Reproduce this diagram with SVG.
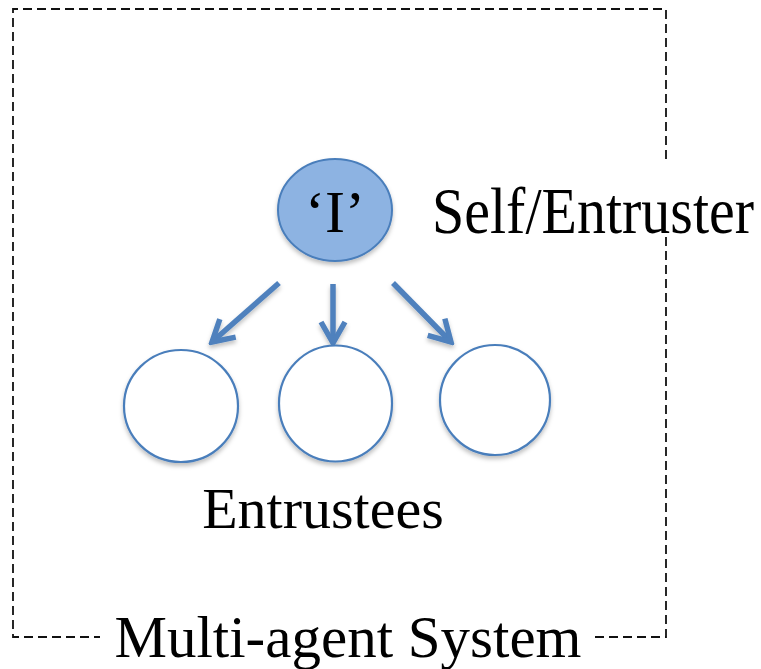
<svg xmlns="http://www.w3.org/2000/svg" width="761" height="669" viewBox="0 0 761 669">
  <style>
    .frame { fill: none; stroke: #111; stroke-width: 1.8; stroke-dasharray: 9 5; }
    .label { font-family: "Liberation Serif", "Times New Roman", serif; fill: #000; }
    .agent { fill: #fff; stroke: #4a7ebb; stroke-width: 2.2; filter: url(#soft); }
    .self { fill: #8db3e2; stroke: #4a7ebb; stroke-width: 2; filter: url(#soft); }
    .link { fill: none; stroke: #4f81bd; stroke-width: 5.5; marker-end: url(#chevron); }
  </style>
  <defs>
    <filter id="soft" filterUnits="userSpaceOnUse" x="0" y="0" width="761" height="669">
      <feDropShadow dx="0" dy="3" stdDeviation="2" flood-color="#000" flood-opacity="0.25"/>
    </filter>
    <marker id="chevron" markerUnits="userSpaceOnUse" viewBox="-30 -16 34 32" refX="0" refY="0" markerWidth="34" markerHeight="32" orient="auto">
      <path d="M -21 -12 L 0 0 L -21 12" fill="none" stroke="#4f81bd" stroke-width="5.5" stroke-linejoin="miter"/>
    </marker>
  </defs>

  <!-- system boundary: dashed frame with gaps for the two labels -->
  <g id="system-boundary">
    <path class="frame" d="M 666 159 L 666 9 L 13 9 L 13 637 L 100 637"/>
    <path class="frame" d="M 595 637 L 666 637 L 666 236"/>
    <text class="label" x="348" y="657" font-size="59" text-anchor="middle">Multi-agent System</text>
  </g>

  <!-- delegation arrows -->
  <g id="connectors" filter="url(#soft)">
    <path class="link" d="M 279 283 L 212 342"/>
    <path class="link" d="M 333 284 L 333 343"/>
    <path class="link" d="M 393 283 L 451 342"/>
  </g>

  <g id="self">
    <ellipse class="self" cx="335" cy="210" rx="57" ry="51"/>
    <text class="label" x="335" y="232" font-size="60" text-anchor="middle">‘I’</text>
    <text class="label" transform="translate(432 233) scale(1 1.12)" font-size="58">Self/Entruster</text>
  </g>

  <g id="entrustee-1">
    <ellipse class="agent" cx="181" cy="406" rx="57" ry="56"/>
  </g>
  <g id="entrustee-2">
    <ellipse class="agent" cx="335.5" cy="403.5" rx="56.5" ry="58"/>
  </g>
  <g id="entrustee-3">
    <ellipse class="agent" cx="495" cy="400" rx="55" ry="55"/>
  </g>

  <g id="entrustees-label">
    <text class="label" x="323" y="528" font-size="58" text-anchor="middle">Entrustees</text>
  </g>
</svg>
